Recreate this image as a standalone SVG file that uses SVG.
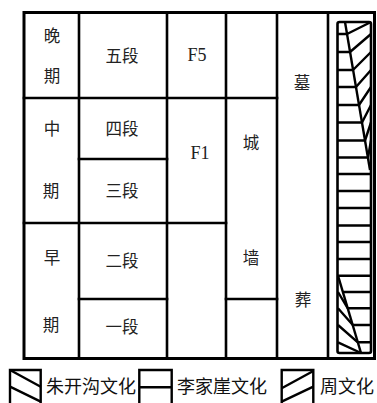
<svg xmlns="http://www.w3.org/2000/svg" width="377" height="403" viewBox="0 0 377 403">
<style>
.ln{stroke:#000;stroke-width:2.6;fill:none;stroke-linecap:square}
.ol{stroke:#000;stroke-width:3;fill:none}
.hl{stroke:#000;stroke-width:2.4;fill:none;stroke-linecap:butt}
.t{font-family:"Noto Sans CJK SC","Noto Sans CJK TC",sans-serif;font-size:16.5px;fill:#222;text-anchor:middle;dominant-baseline:central}
.f{font-family:"Liberation Serif","Noto Sans CJK SC",serif;font-size:18px;fill:#222;text-anchor:middle;dominant-baseline:central}
.lg{font-family:"Noto Sans CJK SC","Noto Sans CJK TC",sans-serif;font-size:18px;fill:#111;dominant-baseline:central}
</style>
<rect width="377" height="403" fill="#fff"/>
<g id="grid">
<rect class="ol" x="24" y="12.5" width="350.5" height="346"/>
<line class="ln" x1="79" y1="12.5" x2="79" y2="358.5"/>
<line class="ln" x1="167" y1="12.5" x2="167" y2="358.5"/>
<line class="ln" x1="226" y1="12.5" x2="226" y2="358.5"/>
<line class="ln" x1="277" y1="12.5" x2="277" y2="358.5"/>
<line class="ln" x1="328" y1="12.5" x2="328" y2="358.5"/>
<line class="ln" x1="24" y1="98" x2="277" y2="98"/>
<line class="ln" x1="79" y1="159" x2="167" y2="159"/>
<line class="ln" x1="24" y1="223" x2="226" y2="223"/>
<line class="ln" x1="79" y1="299" x2="167" y2="299"/>
<line class="ln" x1="226" y1="299" x2="277" y2="299"/>
</g>
<g id="late"><text class="t" x="52" y="35">晚</text><text class="t" x="52" y="75">期</text></g>
<g id="middle"><text class="t" x="52" y="128">中</text><text class="t" x="51" y="190">期</text></g>
<g id="early"><text class="t" x="52" y="257">早</text><text class="t" x="51" y="324">期</text></g>
<g id="seg5"><text class="t" x="122" y="55">五段</text></g>
<g id="seg4"><text class="t" x="122" y="128">四段</text></g>
<g id="seg3"><text class="t" x="122" y="190">三段</text></g>
<g id="seg2"><text class="t" x="122" y="260">二段</text></g>
<g id="seg1"><text class="t" x="122" y="326">一段</text></g>
<g id="F5"><text class="f" x="197" y="55">F5</text></g>
<g id="F1"><text class="f" x="200" y="153">F1</text></g>
<g id="wall"><text class="t" x="251" y="142">城</text><text class="t" x="251" y="257">墙</text></g>
<g id="tomb"><text class="t" x="302" y="82">墓</text><text class="t" x="303" y="299">葬</text></g>
<g id="culture-column">
<rect class="ln" x="337.5" y="22" width="33.5" height="331" rx="2"/>
<!-- left rungs in upper zone -->
<path class="hl" d="M337.5 34H347M337.5 52H350M337.5 70H353M337.5 87H356M337.5 105H359M337.5 122.5H362M337.5 140.5H365M337.5 157.5H368"/>
<!-- top slanted line and zou diagonals -->
<path class="hl" d="M345 22L370 170"/>
<path class="hl" d="M347 34L371 22M350 52L371 34M353 70L371 52M356 87L371 70M359 105L371 87M362 122.5L371 105M365 140.5L371 122.5M368 157.5L371 140.5"/>
<!-- full rungs -->
<path class="hl" d="M337.5 174H371M337.5 191H371M337.5 208H371M337.5 225.5H371M337.5 242H371M337.5 259H371M337.5 275.7H371"/>
<!-- bottom zone -->
<path class="hl" d="M338 275.7L361 353"/>
<path class="hl" d="M343 292H371M347.8 308.3H371M352.8 325H371M357.8 342.3H371"/>
<path class="hl" d="M338 292L347.8 308.3M338 308.3L352.8 325M338 325L357.8 342.3M338 342.3L361 353"/>
</g>
<g id="legend-zhukaigou">
<path class="hl" d="M10 405V370H40.7V405"/>
<path class="hl" d="M10 370L40.7 386.7M10 386.7L40.7 401.7"/>
<text class="lg" x="46" y="384.5">朱开沟文化</text>
</g>
<g id="legend-lijiaya">
<path class="hl" d="M139.3 405V370H171.7V405M139.3 387.3H171.7"/>
<text class="lg" x="177" y="384.5">李家崖文化</text>
</g>
<g id="legend-zhou">
<path class="hl" d="M281.7 405V370H313.3V405"/>
<path class="hl" d="M281.7 388.3L313.3 371M281.7 401.7L313.3 386.7"/>
<text class="lg" x="320" y="384.5">周文化</text>
</g>
</svg>
